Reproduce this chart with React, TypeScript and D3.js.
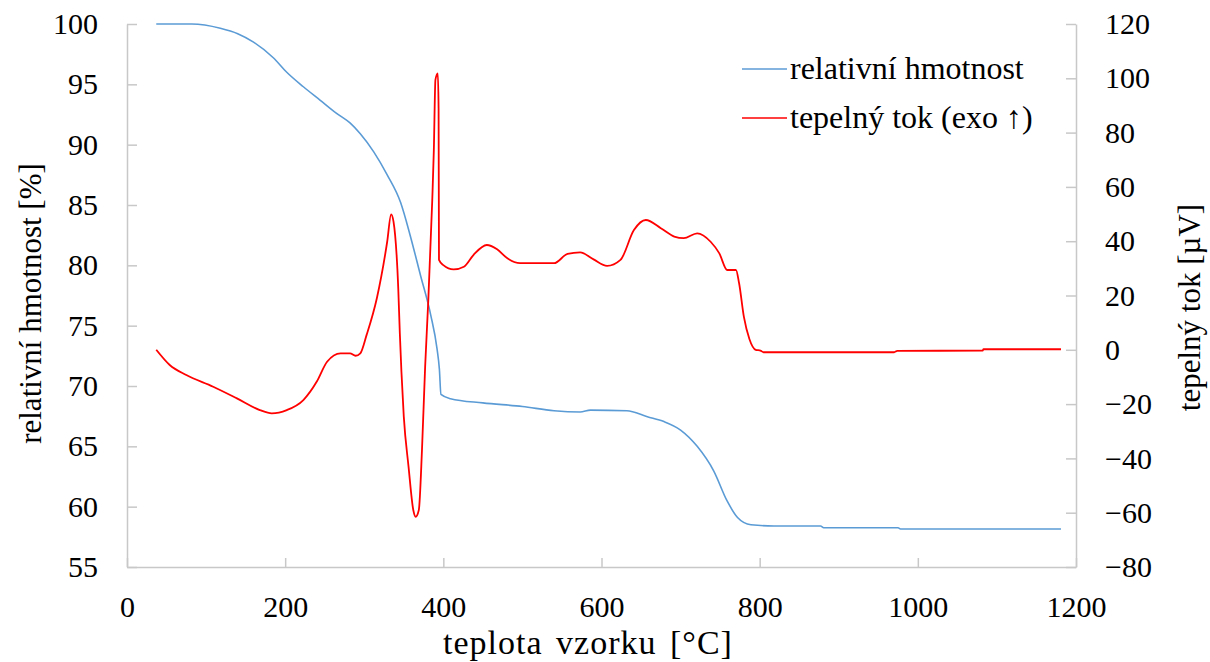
import React, { useEffect, useRef } from "react";
import * as d3 from "d3";

// relativní hmotnost [%] vs teplota
const massT = [37, 82, 118, 140, 160, 185, 202, 223, 244, 265, 282, 295, 312, 329, 346, 358, 371, 384, 392, 395, 397, 409, 450, 500, 540, 573, 586, 632, 658, 679, 700, 721, 742, 759, 772, 789, 818, 877, 881, 975, 978, 1181];
const massV = [100, 100, 99.65, 99.2, 98.5, 97.2, 96.0, 94.8, 93.7, 92.6, 91.8, 90.9, 89.4, 87.5, 85.2, 82.5, 79.2, 75.9, 73.1, 71.4, 69.3, 68.95, 68.6, 68.3, 67.95, 67.85, 68.0, 67.95, 67.45, 67.05, 66.35, 65.0, 62.95, 60.45, 59.1, 58.5, 58.4, 58.4, 58.25, 58.25, 58.15, 58.15];

// tepelný tok [µV] vs teplota
const heatT = [37, 54, 75, 109, 139, 168, 183, 202, 223, 240, 253, 270, 282, 289, 295, 303, 316, 329, 334, 337, 343, 345, 347, 350, 356, 362, 365, 369, 373, 377, 381, 386, 388, 390, 393, 394, 394.5, 400, 413, 426, 438, 455, 468, 481, 497, 540, 557, 573, 590, 607, 624, 641, 656, 675, 692, 704, 721, 738, 749, 759, 770, 774, 780, 787, 795, 801, 805, 970, 974, 1082, 1083, 1181];
const heatV = [0, -5.6, -9.3, -13.6, -17.9, -22.2, -23.4, -22.2, -18.5, -11.7, -4.4, -1.3, -1.3, -2.2, -1.3, 5.5, 19.1, 39.8, 49.9, 47.2, 22.6, 6, -8, -24.6, -43, -59, -61.5, -59, -36.9, -6.2, 18.3, 55.2, 73.6, 99.4, 101.8, 89, 33.1, 31.2, 29.6, 30.6, 34.9, 38.6, 37, 33.7, 31.9, 31.9, 35.3, 35.9, 33.3, 30.9, 33.1, 44.1, 47.8, 44.8, 41.7, 41.1, 42.9, 39.8, 35.5, 29.4, 29.4, 24.5, 12.2, 4, 0, -0.3, -0.9, -0.9, -0.4, -0.3, 0.2, 0.2];

const leftTicks = [55, 60, 65, 70, 75, 80, 85, 90, 95, 100];
const rightTicks = [-80, -60, -40, -20, 0, 20, 40, 60, 80, 100, 120];
const xTicks = [0, 200, 400, 600, 800, 1000, 1200];

const seriesNames = ["relativní hmotnost", "tepelný tok (exo \u2191)"];
const seriesColors = ["#5b9bd5", "#ff0000"];

export default function App() {
  const ref = useRef<SVGSVGElement>(null);

  useEffect(() => {
    const left = 127,
      right = 1076,
      top = 24,
      bottom = 567;
    const font = "'Liberation Serif', 'Times New Roman', serif";
    const axisColor = "#c8c8c8";

    const svg = d3.select(ref.current);
    svg.selectAll("*").remove();

    const x = d3.scaleLinear().domain([0, 1200]).range([left, right]);
    const yL = d3.scaleLinear().domain([55, 100]).range([bottom, top]);
    const yR = d3.scaleLinear().domain([-80, 120]).range([bottom, top]);

    const styleAxis = (g: any) => {
      g.attr("font-family", font).attr("font-size", 30);
      g.selectAll(".domain").attr("stroke", axisColor).attr("stroke-width", 1.5);
      g.selectAll(".tick line").attr("stroke", axisColor).attr("stroke-width", 1.5);
      g.selectAll(".tick text").attr("fill", "#000");
    };

    svg
      .append("g")
      .attr("transform", `translate(${left},0)`)
      .call(d3.axisLeft(yL).tickValues(leftTicks).tickSize(-10).tickSizeOuter(0).tickPadding(29).tickFormat(d3.format("d")))
      .call(styleAxis);

    svg
      .append("g")
      .attr("transform", `translate(${right},0)`)
      .call(d3.axisRight(yR).tickValues(rightTicks).tickSize(-10).tickSizeOuter(0).tickPadding(29).tickFormat(d3.format("d")))
      .call(styleAxis);

    svg
      .append("g")
      .attr("transform", `translate(0,${bottom})`)
      .call(d3.axisBottom(x).tickValues(xTicks).tickSize(-9).tickSizeOuter(0).tickPadding(29).tickFormat(d3.format("d")))
      .call(styleAxis);

    const massLine = d3
      .line<number>()
      .x((d, i) => x(massT[i]))
      .y((d) => yL(d))
      .curve(d3.curveMonotoneX);
    const heatLine = d3
      .line<number>()
      .x((d, i) => x(heatT[i]))
      .y((d) => yR(d))
      .curve(d3.curveMonotoneX);

    svg
      .append("path")
      .attr("d", massLine(massV))
      .attr("fill", "none")
      .attr("stroke", seriesColors[0])
      .attr("stroke-width", 1.6);

    svg
      .append("path")
      .attr("d", heatLine(heatV))
      .attr("fill", "none")
      .attr("stroke", seriesColors[1])
      .attr("stroke-width", 1.8);

    // legend
    const legend = svg.append("g").attr("font-family", font).attr("font-size", 32);
    seriesNames.forEach((name, i) => {
      const ly = 69 + i * 49;
      legend
        .append("line")
        .attr("x1", 742)
        .attr("x2", 787)
        .attr("y1", ly)
        .attr("y2", ly)
        .attr("stroke", seriesColors[i])
        .attr("stroke-width", 1.6);
      legend
        .append("text")
        .attr("x", 790)
        .attr("y", ly + 10)
        .attr("fill", "#000")
        .text(name);
    });

    // axis titles
    svg
      .append("text")
      .attr("x", 588)
      .attr("y", 654)
      .attr("text-anchor", "middle")
      .attr("font-family", font)
      .attr("font-size", 34)
      .attr("letter-spacing", 1)
      .attr("word-spacing", 4)
      .text("teplota vzorku [°C]");

    svg
      .append("text")
      .attr("transform", `translate(41,${(top + bottom) / 2 + 8}) rotate(-90)`)
      .attr("text-anchor", "middle")
      .attr("font-family", font)
      .attr("font-size", 31)
      .text("relativní  hmotnost [%]");

    svg
      .append("text")
      .attr("transform", `translate(1200,${(top + bottom) / 2 + 12}) rotate(-90)`)
      .attr("text-anchor", "middle")
      .attr("font-family", font)
      .attr("font-size", 31)
      .text("tepelný tok [µV]");
  }, []);

  return (
    <svg
      ref={ref}
      width={1210}
      height={662}
      style={{ position: "absolute", left: 0, top: 0, background: "#fff", whiteSpace: "pre" }}
    />
  );
}
